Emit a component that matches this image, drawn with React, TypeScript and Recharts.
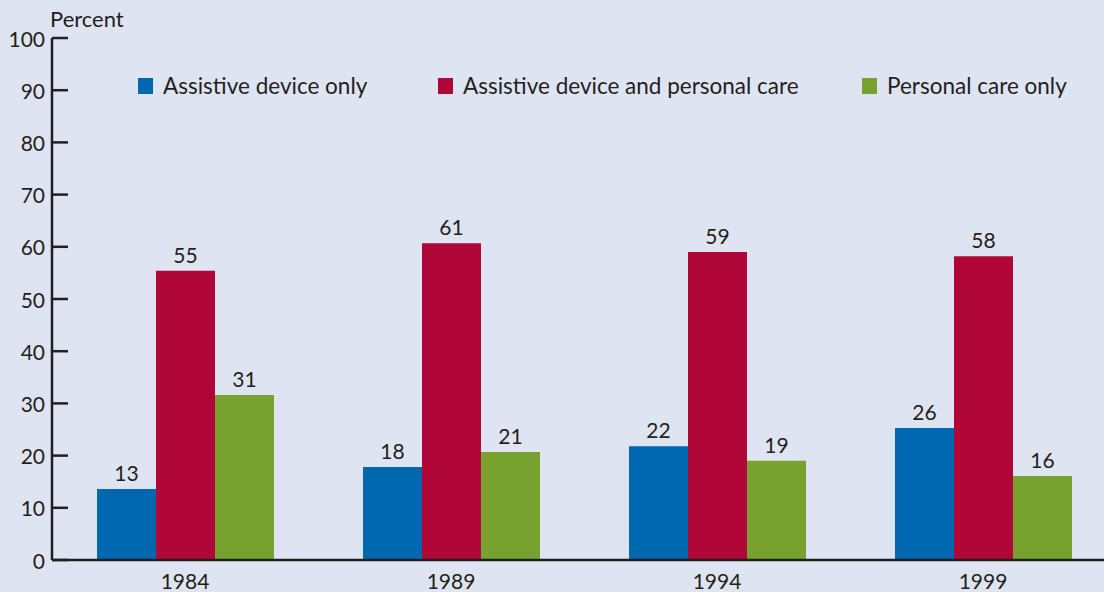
import React from "react"
import { BarChart, Bar, XAxis, YAxis, Legend, LabelList } from "recharts"

// values (bar heights) and the printed labels
const years = ["1984", "1989", "1994", "1999"]
const deviceOnly = [13.6, 17.8, 21.8, 25.3]
const deviceAndCare = [55.4, 60.7, 59.0, 58.2]
const careOnly = [31.6, 20.7, 19.0, 16.1]
const deviceOnlyLabels = [13, 18, 22, 26]
const deviceAndCareLabels = [55, 61, 59, 58]
const careOnlyLabels = [31, 21, 19, 16]
const yTicks = [0, 10, 20, 30, 40, 50, 60, 70, 80, 90, 100]

const series = [
  { key: "deviceOnly", label: "deviceOnlyLbl", name: "Assistive device only", color: "#0067b1", w: 300 },
  { key: "deviceAndCare", label: "deviceAndCareLbl", name: "Assistive device and personal care", color: "#b10738", w: 424 },
  { key: "careOnly", label: "careOnlyLbl", name: "Personal care only", color: "#78a22f", w: 240 },
]

const data = years.map((year, i) => ({
  year,
  deviceOnly: deviceOnly[i],
  deviceAndCare: deviceAndCare[i],
  careOnly: careOnly[i],
  deviceOnlyLbl: deviceOnlyLabels[i],
  deviceAndCareLbl: deviceAndCareLabels[i],
  careOnlyLbl: careOnlyLabels[i],
}))

const INK = "#231f20"
const FONT = "Lato, 'Noto Sans', sans-serif"

function YTick(props: any) {
  const { x, y, payload } = props
  return (
    <g>
      <line x1={x} x2={x + 16} y1={y} y2={y} stroke={INK} strokeWidth={2.5} />
      <text x={x - 7} y={y} textAnchor="end" dominantBaseline="central" fontSize={21} fill={INK}>
        {payload.value}
      </text>
    </g>
  )
}

function LegendBox() {
  return (
    <div style={{ display: "flex", alignItems: "center", fontFamily: FONT }}>
      {series.map((s) => (
        <div key={s.key} style={{ display: "flex", alignItems: "center", width: s.w }}>
          <span style={{ display: "inline-block", width: 15, height: 16, background: s.color, marginRight: 10 }} />
          <span style={{ fontSize: 22.5, color: INK, whiteSpace: "nowrap" }}>{s.name}</span>
        </div>
      ))}
    </div>
  )
}

export default function App() {
  return (
    <div style={{ position: "absolute", left: 0, top: 0, width: 1104, height: 592, overflow: "hidden", background: "#dfe4f2", fontFamily: FONT }}>
      <BarChart width={1120} height={592} data={data} margin={{ top: 38, right: 4, bottom: 0, left: 0 }} barGap={0} barSize={59}>
        <XAxis dataKey="year" height={32} tickLine={false} tickSize={0} tickMargin={14}
          axisLine={{ stroke: INK, strokeWidth: 2.5 }} tick={{ fontSize: 21, fill: INK }} />
        <YAxis domain={[0, 100]} ticks={yTicks} width={52} tickSize={0} tickMargin={0} tickLine={false}
          axisLine={{ stroke: INK, strokeWidth: 2.5 }} tick={<YTick />} interval={0}
          label={{
            content: (p: any) => (
              <text x={p.viewBox.x + p.viewBox.width - 2} y={p.viewBox.y - 11} fontSize={22} fill={INK}>Percent</text>
            ),
          }} />
        <Legend layout="horizontal" verticalAlign="middle" align="center" content={<LegendBox />}
          wrapperStyle={{ top: 72, left: 138, width: "auto" }} />
        {series.map((s) => (
          <Bar key={s.key} dataKey={s.key} name={s.name} fill={s.color} isAnimationActive={false}>
            <LabelList dataKey={s.label} position="top" offset={8} fontSize={21} fill={INK} />
          </Bar>
        ))}
      </BarChart>
    </div>
  )
}
